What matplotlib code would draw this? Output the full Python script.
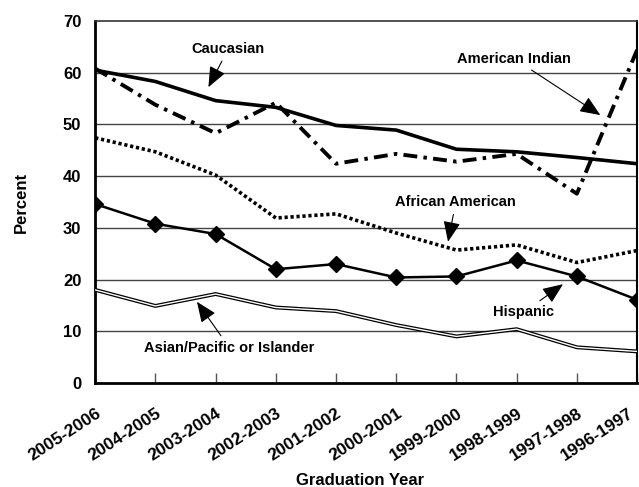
import matplotlib
matplotlib.use("Agg")
import matplotlib.pyplot as plt
import matplotlib.transforms as mtransforms

plt.rcParams['font.family'] = ['Liberation Sans', 'DejaVu Sans']
plt.rcParams['font.weight'] = 'bold'
plt.rcParams['lines.scale_dashes'] = False

years = ["2005-2006", "2004-2005", "2003-2004", "2002-2003", "2001-2002",
         "2000-2001", "1999-2000", "1998-1999", "1997-1998", "1996-1997"]
caucasian = [60.5, 58.3, 54.6, 53.3, 49.8, 48.9, 45.2, 44.7, 43.6, 42.4]
american_indian = [60.8, 53.8, 48.3, 54.2, 42.4, 44.3, 42.8, 44.3, 36.6, 64.4]
african_american = [47.4, 44.7, 40.2, 31.9, 32.7, 29.0, 25.7, 26.7, 23.3, 25.6]
hispanic = [34.6, 30.8, 28.8, 22.0, 23.0, 20.4, 20.6, 23.7, 20.6, 16.1]
asian = [18.0, 14.9, 17.2, 14.6, 13.9, 11.2, 9.0, 10.4, 6.9, 6.1]

x = list(range(len(years)))

fig = plt.figure(figsize=(6.39, 4.87), dpi=100)
ax = fig.add_axes([0.149, 0.2136, 0.848, 0.7433])

for yv in range(10, 70, 10):
    ax.axhline(yv, color='#444444', lw=1.0, zorder=1)

# Asian/Pacific: double line
ax.plot(x, asian, color='black', lw=2.8, zorder=3, solid_joinstyle='miter')
ax.plot(x, asian, color='white', lw=1.0, zorder=3, solid_joinstyle='miter')

ax.plot(x, hispanic, color='black', lw=1.8, marker='D', markersize=8.5, zorder=4)
ax.plot(x, african_american, color='black', lw=2.6, dashes=(2.3, 2.0),
        dash_capstyle='butt', zorder=3)
ax.plot(x, american_indian, color='black', lw=2.8, dashes=(10, 4.5, 2.5, 4.5),
        dash_capstyle='butt', zorder=3)
ax.plot(x, caucasian, color='black', lw=2.6, zorder=5)

ax.set_xlim(0, 9)
ax.set_ylim(0, 70)
ax.set_yticks(range(0, 80, 10))
ax.set_xticks(x)
ax.set_xticklabels([])
ax.tick_params(axis='x', direction='in', length=7, width=1, color='#555555')
ax.tick_params(axis='y', length=0, pad=10, labelsize=12)
for lab in ax.get_yticklabels():
    lab.set_fontweight('bold')

# category labels placed by hand so the last one stays inside the figure
for i, yr in enumerate(years):
    dx = 0 if i < len(years) - 1 else -9
    off = mtransforms.ScaledTranslation(dx / 100, -23 / 100, fig.dpi_scale_trans)
    ax.text(i, 0, yr, transform=ax.get_xaxis_transform() + off,
            rotation=33, ha='right', va='top', rotation_mode='anchor',
            fontsize=12.5, fontweight='bold', clip_on=False)

ax.spines['left'].set_linewidth(2.0)
ax.spines['bottom'].set_linewidth(2.0)
ax.spines['right'].set_linewidth(1.5)
ax.spines['top'].set_linewidth(1.2)
ax.spines['top'].set_color('#333333')

ax.set_ylabel("Percent", fontsize=12, fontweight='bold')
ax.yaxis.set_label_coords(-0.123, 0.5)
ax.set_xlabel("Graduation Year", fontsize=12, fontweight='bold')
ax.xaxis.set_label_coords(0.489, -0.249)

arrow = dict(arrowstyle='-|>,head_length=1.2,head_width=0.5', color='black',
             lw=0.8, shrinkA=2, shrinkB=0)
notes = [
    ("Caucasian", (2.21, 64.6), (1.88, 57.2)),
    ("American Indian", (6.96, 62.7), (8.39, 51.8)),
    ("African American", (5.99, 35.0), (5.86, 27.3)),
    ("Hispanic", (7.12, 13.7), (7.77, 19.1)),
    ("Asian/Pacific or Islander", (2.23, 6.8), (1.69, 15.7)),
]
for label, txt, head in notes:
    ax.annotate(label, xy=head, xytext=txt, ha='center', va='center',
                fontsize=10.5, fontweight='bold', arrowprops=arrow, zorder=6)

fig.savefig("out.png", dpi=100)
